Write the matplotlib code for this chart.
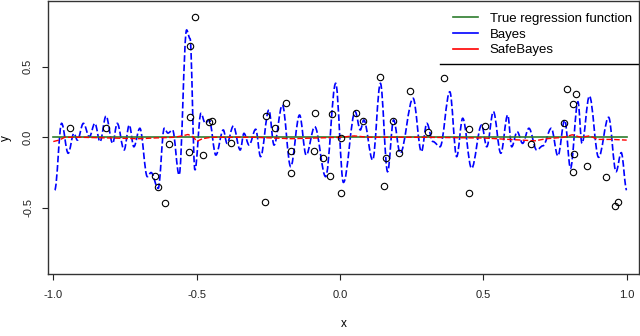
import matplotlib
matplotlib.use("Agg")
import matplotlib.pyplot as plt
from matplotlib.lines import Line2D
from matplotlib.path import Path
from matplotlib.patches import PathPatch

plt.rcParams['font.family'] = ['Liberation Sans', 'DejaVu Sans']
plt.rcParams['axes.unicode_minus'] = False

# observed points
obs_x = [-0.943, -0.815, -0.507, -0.522, -0.524, -0.447, -0.456, -0.595, -0.526, -0.477,
         -0.380, -0.644, -0.636, -0.610, -0.189, -0.259, -0.227, -0.087, -0.027, 0.002,
         -0.172, -0.091, -0.059, -0.170, -0.035, 0.005, -0.261, 0.138, 0.243, 0.056,
         0.079, 0.184, 0.307, 0.162, 0.207, 0.155, 0.364, 0.451, 0.506, 0.665,
         0.450, 0.792, 0.824, 0.813, 0.781, 0.816, 0.863, 0.813, 0.927, 0.958, 0.970]
obs_y = [0.068, 0.064, 0.851, 0.650, 0.146, 0.118, 0.106, -0.047, -0.107, -0.123,
         -0.043, -0.274, -0.350, -0.464, 0.241, 0.153, 0.068, 0.170, 0.163, -0.003,
         -0.097, -0.097, -0.145, -0.255, -0.272, -0.397, -0.459, 0.430, 0.328, 0.170,
         0.118, 0.118, 0.035, -0.145, -0.113, -0.343, 0.423, 0.057, 0.080, -0.050,
         -0.397, 0.340, 0.307, 0.234, 0.104, -0.121, -0.201, -0.248, -0.279, -0.485, -0.461]

# Bayes posterior mean, turning points
bayes_x = [-0.995, -0.971, -0.948, -0.928, -0.916, -0.895, -0.874, -0.855, -0.837, -0.816,
           -0.793, -0.777, -0.753, -0.735, -0.719, -0.698, -0.672, -0.659, -0.634, -0.613,
           -0.600, -0.584, -0.561, -0.535, -0.523, -0.506, -0.485, -0.470, -0.456, -0.433,
           -0.407, -0.394, -0.372, -0.348, -0.335, -0.317, -0.294, -0.277, -0.248, -0.230,
           -0.201, -0.172, -0.141, -0.118, -0.088, -0.050, -0.015, 0.012, 0.053, 0.071,
           0.083, 0.114, 0.141, 0.166, 0.187, 0.210, 0.255, 0.284, 0.303, 0.324,
           0.349, 0.383, 0.407, 0.428, 0.459, 0.494, 0.512, 0.535, 0.561, 0.585,
           0.599, 0.618, 0.637, 0.659, 0.686, 0.708, 0.737, 0.760, 0.784, 0.804,
           0.830, 0.844, 0.870, 0.902, 0.937, 0.963, 0.981, 1.000]
bayes_y = [-0.374, 0.099, -0.113, 0.028, -0.020, 0.099, 0.004, 0.099, -0.031, 0.151,
           -0.043, 0.099, -0.090, 0.087, -0.067, 0.064, -0.279, -0.250, -0.362, 0.064,
           0.030, 0.052, -0.267, 0.761, 0.700, -0.232, 0.170, 0.100, 0.123, -0.126,
           0.052, -0.043, 0.080, -0.090, 0.028, -0.055, 0.057, -0.137, 0.194, -0.055,
           0.229, -0.208, 0.158, -0.126, 0.075, -0.279, 0.383, -0.320, 0.182, 0.052,
           0.123, -0.161, 0.383, -0.244, 0.123, -0.113, 0.277, -0.102, 0.099, -0.030,
           -0.067, 0.323, -0.137, 0.135, -0.220, 0.087, -0.067, 0.182, -0.113, 0.158,
           -0.067, 0.040, -0.043, 0.064, -0.090, -0.060, 0.064, -0.132, 0.123, -0.220,
           0.252, -0.043, 0.293, -0.142, 0.142, -0.244, -0.109, -0.374]

# SafeBayes posterior mean
safe_x = [-1.0, -0.98, -0.96, -0.9, -0.8, -0.7, -0.65, -0.58, -0.55, -0.53, -0.51, -0.50,
          -0.48, -0.45, -0.3, -0.17, 0.0, 0.05, 0.1, 0.3, 0.5, 0.68, 0.72, 0.78, 0.81,
          0.84, 0.87, 0.9, 0.95, 1.0]
safe_y = [-0.03, -0.02, 0.0, 0.0, -0.005, -0.01, -0.005, 0.0, 0.01, 0.02, 0.0, -0.03,
          -0.01, 0.0, 0.0, -0.01, 0.0, 0.01, 0.0, 0.0, -0.005, -0.025, -0.01, 0.0, 0.018,
          0.0, 0.01, -0.015, -0.015, -0.02]

true_x = [-1.0, 1.0]
true_y = [0.0, 0.0]

x_ticks = [-1.0, -0.5, 0.0, 0.5, 1.0]
y_ticks = [-0.5, 0.0, 0.5]

GREEN = '#2e7d2e'
BLUE = '#0000ff'
RED = '#ff0000'


def wave_path(xs, ys, k=0.36):
    # bezier segments with flat tangents at each turning point
    verts = [(xs[0], ys[0])]
    codes = [Path.MOVETO]
    for x0, y0, x1, y1 in zip(xs[:-1], ys[:-1], xs[1:], ys[1:]):
        dx = x1 - x0
        verts += [(x0 + k * dx, y0), (x1 - k * dx, y1), (x1, y1)]
        codes += [Path.CURVE4] * 3
    return Path(verts, codes)


fig = plt.figure(figsize=(6.4, 3.36), dpi=100)
ax = fig.add_axes([48.3 / 640, (336 - 274.3) / 336, (638.5 - 48.3) / 640, (274.3 - 1) / 336])

ax.plot(true_x, true_y, color=GREEN, lw=1.2)
ax.add_patch(PathPatch(wave_path(bayes_x, bayes_y), fill=False, edgecolor=BLUE,
                       lw=1.2, linestyle=(0, (4, 1.6))))
ax.plot(safe_x, safe_y, color=RED, lw=1.0, dashes=(4, 1.6))
ax.plot(obs_x, obs_y, 'o', ms=4.6, mfc='none', mec='black', mew=0.8)

ax.set_xlim(-1.0174, 1.0412)
ax.set_ylim(-0.9716, 0.9667)

ax.set_xticks(x_ticks)
ax.set_xticklabels(['%.1f' % v for v in x_ticks])
ax.set_yticks(y_ticks)
ax.set_yticklabels(['%.1f' % v for v in y_ticks], rotation=90, va='center')
ax.tick_params(direction='out', length=4, width=0.8, labelsize=8, pad=7, colors='#222222')

for s in ax.spines.values():
    s.set_color('#333333')
    s.set_linewidth(1.0)

ax.set_xlabel('x', fontsize=8.5, labelpad=13)
ax.set_ylabel('y', fontsize=8.5, labelpad=8)

handles = [Line2D([], [], color=GREEN, lw=1.2),
           Line2D([], [], color=BLUE, lw=1.2),
           Line2D([], [], color=RED, lw=1.2)]
ax.legend(handles, ['True regression function', 'Bayes', 'SafeBayes'],
          loc='upper right', bbox_to_anchor=(0.998, 0.976), borderaxespad=0,
          frameon=False, fontsize=9.5, handlelength=1.9,
          handletextpad=0.9, labelspacing=0.25)
ax.add_line(Line2D([0.663, 1.0], [0.768, 0.768], transform=ax.transAxes,
                   color='black', lw=1.0, clip_on=False))

fig.savefig('out.png', dpi=100)
